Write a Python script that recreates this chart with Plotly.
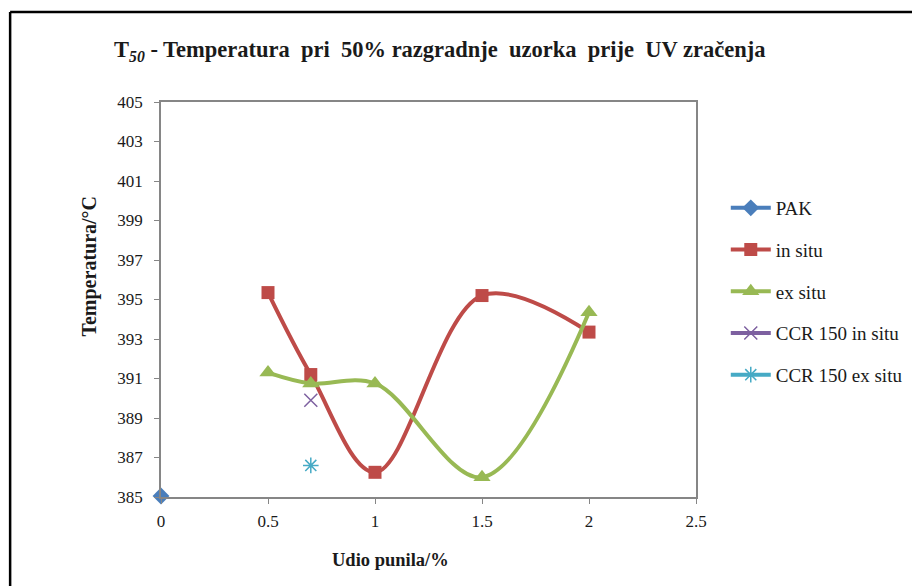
import plotly.graph_objects as go

# Data
pak_x = [0]
pak_y = [385.05]
insitu_x = [0.5, 0.7, 1.0, 1.5, 2.0]
insitu_y = [395.35, 391.2, 386.25, 395.2, 393.35]
exsitu_x = [0.5, 0.7, 1.0, 1.5, 2.0]
exsitu_y = [391.3, 390.75, 390.75, 386.0, 394.35]
ccr_in_x = [0.7]
ccr_in_y = [389.9]
ccr_ex_x = [0.7]
ccr_ex_y = [386.6]

x_ticks = [0, 0.5, 1, 1.5, 2, 2.5]
y_ticks = [385, 387, 389, 391, 393, 395, 397, 399, 401, 403, 405]

FONT = "Liberation Serif"

W, H = 912, 578
L, R, T, B = 153, 220, 94, 89
PW, PH = W - L - R, H - T - B
OFF = 8  # page offset


def px(x):
    return (x - OFF - L) / PW


def py(y):
    return (H - B - (y - OFF)) / PH


fig = go.Figure()
fig.add_trace(go.Scatter(x=pak_x, y=pak_y, name="PAK", mode="lines+markers",
                         line=dict(color="#4A7EBB", width=4),
                         marker=dict(symbol="diamond", size=13, color="#4A7EBB"),
                         cliponaxis=False, legendgroup="a"))
fig.add_trace(go.Scatter(x=insitu_x, y=insitu_y, name="in situ", mode="lines+markers",
                         line=dict(color="#BE4B48", width=4, shape="spline", smoothing=1),
                         marker=dict(symbol="square", size=13, color="#BE4B48"),
                         cliponaxis=False, legendgroup="b"))
fig.add_trace(go.Scatter(x=exsitu_x, y=exsitu_y, name="ex situ", mode="lines+markers",
                         line=dict(color="#98B954", width=4, shape="spline", smoothing=1),
                         marker=dict(symbol="triangle-up", size=15, color="#98B954"),
                         cliponaxis=False, legendgroup="c"))
fig.add_trace(go.Scatter(x=ccr_in_x, y=ccr_in_y, name="CCR 150 in situ", mode="lines+markers",
                         line=dict(color="#7D60A0", width=4),
                         marker=dict(symbol="x-thin-open", size=13, color="#7D60A0",
                                     line=dict(width=1.5, color="#7D60A0")),
                         cliponaxis=False, legendgroup="d"))
fig.add_trace(go.Scatter(x=ccr_ex_x, y=ccr_ex_y, name="CCR 150 ex situ", mode="lines+markers",
                         line=dict(color="#46AAC5", width=4),
                         marker=dict(symbol="asterisk-open", size=13, color="#46AAC5",
                                     line=dict(width=1.5, color="#46AAC5")),
                         cliponaxis=False, legendgroup="e"))

axis_common = dict(showgrid=False, zeroline=False, showline=True, linecolor="#868686",
                   linewidth=1.5, mirror=True, ticks="outside", ticklen=5, tickcolor="#868686",
                   tickfont=dict(family=FONT, size=17, color="#1a1a1a"))

fig.update_xaxes(range=[0, 2.5], tickvals=x_ticks, ticktext=[str(v) for v in x_ticks],
                 ticklabelstandoff=3, **axis_common)
fig.update_yaxes(range=[385, 405], tickvals=y_ticks, ticktext=[str(v) for v in y_ticks],
                 ticklabelstandoff=8, **axis_common)

fig.update_layout(
    width=W, height=H,
    margin=dict(l=L, r=R, t=T, b=B),
    plot_bgcolor="white", paper_bgcolor="white",
    font=dict(family=FONT, color="#1a1a1a"),
    showlegend=True,
    legend=dict(x=px(730), y=py(189), xanchor="left", yanchor="top",
                font=dict(family=FONT, size=19, color="#1a1a1a"),
                tracegroupgap=14, itemwidth=40, bgcolor="rgba(0,0,0,0)"),
    annotations=[
        dict(text="<b>T<sub><i>50</i></sub> - Temperatura  pri  50% razgradnje  uzorka  prije  UV zračenja</b>",
             xref="paper", yref="paper", x=px(112), y=py(51),
             xanchor="left", yanchor="middle", showarrow=False,
             font=dict(family=FONT, size=22.5, color="#1a1a1a")),
        dict(text="<b>Udio punila/%</b>", xref="paper", yref="paper",
             x=px(392), y=py(560), xanchor="center", yanchor="middle",
             showarrow=False, font=dict(family=FONT, size=18.5, color="#1a1a1a")),
        dict(text="<b>Temperatura/°C</b>", xref="paper", yref="paper",
             x=px(88), y=py(266), xanchor="center", yanchor="middle",
             textangle=-90, showarrow=False, font=dict(family=FONT, size=20, color="#1a1a1a")),
    ],
    shapes=[
        dict(type="line", xref="paper", yref="paper", x0=px(9), x1=px(930),
             y0=py(12), y1=py(12), line=dict(color="black", width=2.5)),
        dict(type="line", xref="paper", yref="paper", x0=px(9), x1=px(9),
             y0=py(12), y1=py(600), line=dict(color="black", width=2.5)),
    ],
)

fig.write_html("out.html")
